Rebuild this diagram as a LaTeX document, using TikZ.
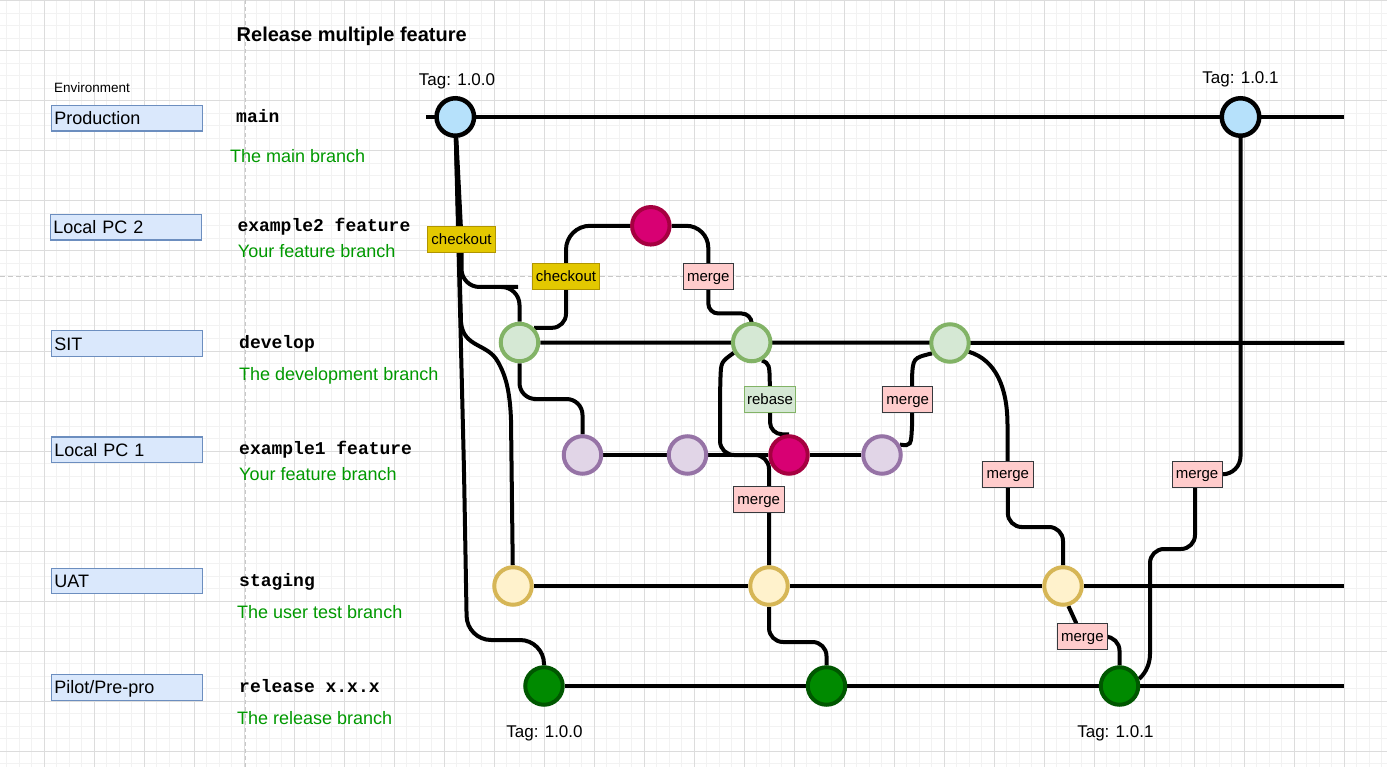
\documentclass[tikz,border=0pt]{standalone}
\usepackage{fontspec}
\setmainfont{Liberation Sans}
\setmonofont{Liberation Mono}
\usetikzlibrary{calc}
\pgfdeclarelayer{gridlayer}
\pgfdeclarelayer{edgelayer}
\pgfsetlayers{gridlayer,edgelayer,main}

\definecolor{envfill}{HTML}{DAE8FC}
\definecolor{envdraw}{HTML}{6C8EBF}
\definecolor{desc}{HTML}{009900}
\definecolor{mainfill}{HTML}{B6E1FB}
\definecolor{devfill}{HTML}{D5E8D4}
\definecolor{devdraw}{HTML}{82B366}
\definecolor{purfill}{HTML}{E1D5E7}
\definecolor{purdraw}{HTML}{9673A6}
\definecolor{stgfill}{HTML}{FFF2CC}
\definecolor{stgdraw}{HTML}{D6B656}
\definecolor{relfill}{HTML}{008A00}
\definecolor{reldraw}{HTML}{005700}
\definecolor{magfill}{HTML}{D80073}
\definecolor{magdraw}{HTML}{A50040}
\definecolor{chkfill}{HTML}{E3C800}
\definecolor{chkdraw}{HTML}{B09500}
\definecolor{mrgfill}{HTML}{FFCCCC}
\definecolor{mrgdraw}{HTML}{36393D}
\definecolor{rbfill}{HTML}{D5E8D4}
\definecolor{rbdraw}{HTML}{82B366}
\definecolor{gridminor}{HTML}{F2F2F2}
\definecolor{gridmajor}{HTML}{DCDCDC}
\definecolor{dashgray}{HTML}{C8C8C8}

\tikzset{
  commit/.style={circle, minimum size=37.5pt, inner sep=0pt, line width=4pt},
  maincommit/.style={commit, draw=black, fill=mainfill, line width=4.5pt},
  devcommit/.style={commit, draw=devdraw, fill=devfill},
  purcommit/.style={commit, draw=purdraw, fill=purfill},
  stgcommit/.style={commit, draw=stgdraw, fill=stgfill},
  relcommit/.style={commit, draw=reldraw, fill=relfill},
  magcommit/.style={commit, draw=magdraw, fill=magfill},
  edge/.style={line width=4pt, draw=black},
  envbox/.style={draw=envdraw, fill=envfill, line width=1.2pt, anchor=north west,
    minimum height=25.5pt, text width=145pt, inner xsep=2.8pt, inner ysep=0pt,
    text height=12.9pt, text depth=0pt, align=left, font=\fontsize{18}{20}\selectfont},
  branchname/.style={anchor=base west, inner sep=0pt, font=\ttfamily\bfseries\fontsize{18}{20}\selectfont},
  desctext/.style={anchor=base west, inner sep=0pt, text=desc, font=\fontsize{18}{20}\selectfont},
  tagtext/.style={anchor=base, inner sep=0pt, font=\fontsize{17}{20}\selectfont},
  lbl/.style={minimum height=25.5pt, inner xsep=0pt, inner ysep=0pt, line width=1pt,
    text height=10.7pt, text depth=1.5pt, font=\fontsize{15}{18}\selectfont},
  chklbl/.style={lbl, draw=chkdraw, fill=chkfill},
  mrglbl/.style={lbl, draw=mrgdraw, fill=mrgfill, minimum width=50pt},
  rblbl/.style={lbl, draw=rbdraw, fill=rbfill, minimum width=51.4pt},
}

\begin{document}
\begin{tikzpicture}[x=1pt, y=-1pt]
\useasboundingbox (0,0) rectangle (1387,767);

% background grid
\begin{pgfonlayer}{gridlayer}
\fill[white] (0,0) rectangle (1387,767);
\begin{scope}
\clip (0,0) rectangle (1387,767);
\foreach \gx in {-5.7,6.8,...,1392}{\draw[gridminor, line width=1pt] (\gx,0) -- (\gx,767);}
\foreach \gy in {1,13.5,...,770}{\draw[gridminor, line width=1pt] (0,\gy) -- (1387,\gy);}
\foreach \gx in {44.3,94.3,...,1392}{\draw[gridmajor, line width=1pt] (\gx,0) -- (\gx,767);}
\foreach \gy in {1,51,...,770}{\draw[gridmajor, line width=1pt] (0,\gy) -- (1387,\gy);}
\draw[dashgray, line width=1pt, dash pattern=on 4pt off 3pt] (245,0) -- (245,767);
\draw[dashgray, line width=1pt, dash pattern=on 5pt off 3pt] (0,276.7) -- (1387,276.7);
\end{scope}
\end{pgfonlayer}

% title and left column
\node[anchor=base west, inner sep=0pt, font=\bfseries\fontsize{20}{24}\selectfont] (title) at (236.5,42) {Release multiple feature};
\node[anchor=base west, inner sep=0pt, font=\fontsize{13.5}{16}\selectfont] (envhead) at (54,92.3) {Environment};

\node[envbox] (envP) at (51,105) {Production};
\node[envbox] (envL2) at (50,214) {Local PC 2};
\node[envbox] (envS) at (51,330.3) {SIT};
\node[envbox] (envL1) at (51,436.3) {Local PC 1};
\node[envbox] (envU) at (51,567.7) {UAT};
\node[envbox] (envR) at (51,674) {Pilot/Pre-pro};

\node[branchname] (bnMain) at (236,122.7) {main};
\node[branchname] (bnEx2) at (237.3,231.7) {example2 feature};
\node[branchname] (bnDev) at (239,348.3) {develop};
\node[branchname] (bnEx1) at (239,454) {example1 feature};
\node[branchname] (bnStg) at (239,586.7) {staging};
\node[branchname] (bnRel) at (239,692.3) {release x.x.x};

\node[desctext] (dsMain) at (230,162.7) {The main branch};
\node[desctext] (dsEx2) at (237.7,257.7) {Your feature branch};
\node[desctext] (dsDev) at (239,380) {The development branch};
\node[desctext] (dsEx1) at (239,480) {Your feature branch};
\node[desctext] (dsStg) at (237,618.3) {The user test branch};
\node[desctext] (dsRel) at (237,724) {The release branch};

% tags
\node[tagtext] (tagA) at (457,85.7) {Tag: 1.0.0};
\node[tagtext] (tagB) at (1240.5,83.3) {Tag: 1.0.1};
\node[tagtext] (tagC) at (544.5,737.3) {Tag: 1.0.0};
\node[tagtext] (tagD) at (1115.4,737.3) {Tag: 1.0.1};

% commits
\node[maincommit] (main1) at (455.3,117) {};
\node[maincommit] (main2) at (1240.5,117) {};
\node[magcommit] (mag1) at (650.8,225.8) {};
\node[devcommit] (dev1) at (519.5,342.5) {};
\node[devcommit] (dev2) at (751.7,342.5) {};
\node[devcommit] (dev3) at (950,343) {};
\node[purcommit] (pur1) at (582.5,455) {};
\node[purcommit] (pur2) at (687.5,455) {};
\node[magcommit] (mag2) at (789,455) {};
\node[purcommit] (pur4) at (882,455) {};
\node[stgcommit] (stg1) at (513,586) {};
\node[stgcommit] (stg2) at (769,586) {};
\node[stgcommit] (stg3) at (1063,586) {};
\node[relcommit] (rel1) at (544,686) {};
\node[relcommit] (rel2) at (826.5,686) {};
\node[relcommit] (rel3) at (1119.5,686) {};

% edge labels
\node[chklbl, minimum width=68.4pt] (chk1) at (461.5,239.5) {checkout};
\node[chklbl, minimum width=67.7pt] (chk2) at (566,276.7) {checkout};
\node[mrglbl] (mrg1) at (708.3,276.7) {merge};
\node[rblbl] (rb) at (770,399.5) {rebase};
\node[mrglbl, minimum width=50.7pt] (mrg2) at (758.7,499.5) {merge};
\node[mrglbl] (mrg3) at (907.7,399.5) {merge};
\node[mrglbl, minimum width=50.7pt] (mrg4) at (1007.8,474.3) {merge};
\node[mrglbl] (mrg5) at (1082.4,636.7) {merge};
\node[mrglbl] (mrg6) at (1197,474.3) {merge};

% line ends
\coordinate (mainL) at (426,117);
\coordinate (mainR) at (1344.3,117);
\coordinate (devR) at (1344.3,343);
\coordinate (stgR) at (1344.3,586);
\coordinate (relR) at (1344.3,686);

\begin{pgfonlayer}{edgelayer}
% branch lines
\draw[edge] (mainL) -- (mainR);
\draw[edge] (dev1) -- (devR);
\draw[edge] (pur1) -- (pur2) -- (mag2) -- (pur4);
\draw[edge] (stg1) -- (stg2) -- (stg3) -- (stgR);
\draw[edge] (rel1) -- (rel2) -- (rel3) -- (relR);
% main -> develop via checkout
\draw[edge] (main1) -- (chk1);
\draw[edge, rounded corners=18pt] (chk1) |- (500,287) -| (dev1);
% main -> staging
\draw[edge] (main1) -- (461,322) .. controls (463,348) and (488,343) .. (498,362)
  .. controls (506,376) and (510,392) .. (511,420) -- (stg1);
% main -> release
\draw[edge, rounded corners=24pt] (main1) -- (464,470) -- (467,640) -| (rel1);
% develop -> example2 via checkout
\draw[edge, rounded corners=14pt] (dev1.north east) -| (chk2);
\draw[edge, rounded corners=24pt] (chk2) |- (mag1);
% example2 -> develop via merge
\draw[edge, rounded corners=22pt] (mag1) -| (mrg1);
\draw[edge, rounded corners=10pt] (mrg1) |- (730,313.5) -| (dev2);
% develop -> example1
\draw[edge, rounded corners=16pt] (dev1) |- (550,399) -| (pur1);
% develop -> example1 via rebase
\draw[edge] (dev2.-60) .. controls (769.5,364) .. (rb);
\draw[edge, rounded corners=12pt] (rb) |- (mag2.north);
% develop -> staging via merge
\draw[edge, rounded corners=14pt] (dev2.210) .. controls (721,362) .. (720,392) -- (720,455) -| (stg2);
% staging -> release
\draw[edge, rounded corners=14pt] (stg2) |- (800,642) -| (rel2);
% example1 -> develop via merge
\draw[edge] (pur4.30) .. controls (911,446) .. (912,426) -- (912,378) .. controls (913,358) .. (dev3.210);
% develop -> staging via merge
\draw[edge] (dev3.-25) .. controls (996,360) and (1007.5,388) .. (1007.5,425) -- (mrg4);
\draw[edge, rounded corners=14pt] (mrg4) |- (1035,527) -| (stg3);
% staging -> release via merge
\draw[edge] (stg3.-75) -- (mrg5);
\draw[edge, rounded corners=14pt] (mrg5) -| (rel3);
% release -> main via merge
\draw[edge, rounded corners=14pt] (rel3.20) .. controls (1147,672) and (1150,662) .. (1150,640) -- (1150,549) -- (1195,549) -- (1195,474.3);
\draw[edge, rounded corners=18pt] (mrg6) -| (main2);
\end{pgfonlayer}
\end{tikzpicture}
\end{document}
